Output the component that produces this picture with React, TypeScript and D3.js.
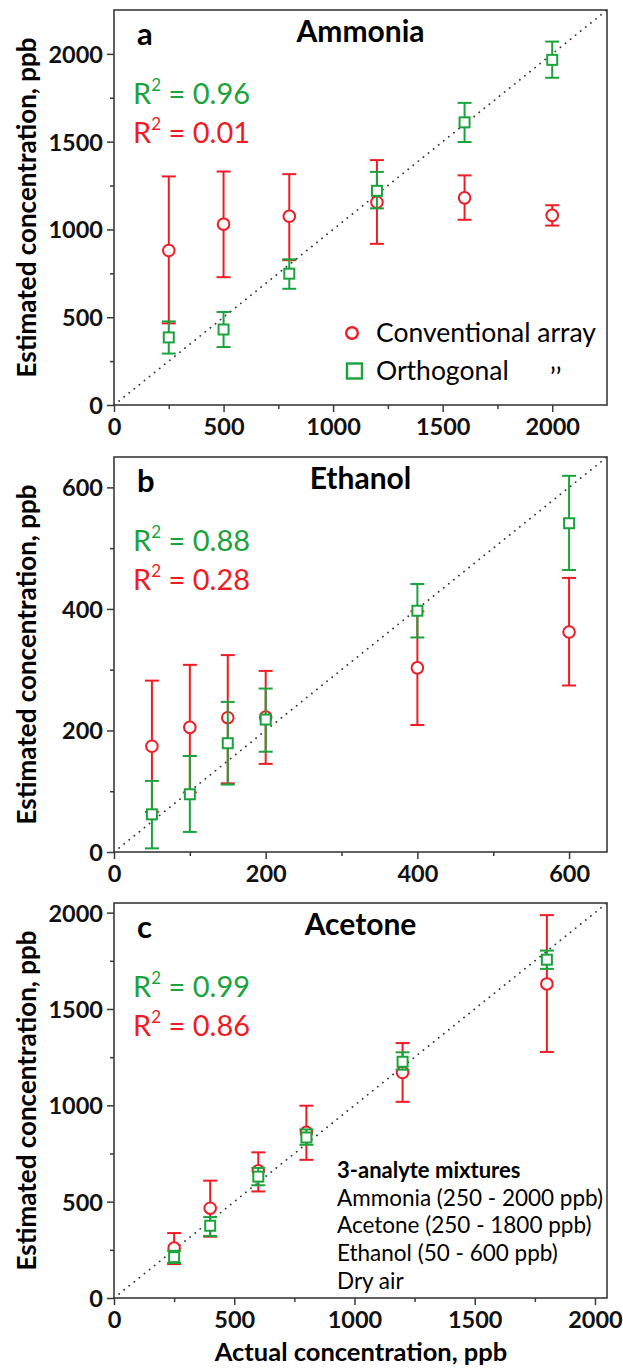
import React, { useEffect, useRef } from 'react';
import * as d3 from 'd3';

// ---- data (ppb) ----
const ammoniaActual = [250, 500, 800, 1200, 1600, 2000];
const ammoniaConv = [880, 1030, 1075, 1155, 1180, 1080];
const ammoniaConvLo = [465, 728, 825, 918, 1055, 1022];
const ammoniaConvHi = [1302, 1330, 1315, 1395, 1308, 1138];
const ammoniaOrth = [385, 430, 748, 1220, 1610, 1966];
const ammoniaOrthLo = [293, 330, 662, 1120, 1498, 1864];
const ammoniaOrthHi = [476, 530, 830, 1328, 1721, 2070];

const ethanolActual = [50, 100, 150, 200, 400, 600];
const ethanolConv = [174, 205, 221, 222, 303, 362];
const ethanolConvLo = [66, 98, 113, 145, 209, 274];
const ethanolConvHi = [282, 308, 324, 298, 396, 451];
const ethanolOrth = [62, 95, 179, 218, 397, 541];
const ethanolOrthLo = [6, 33, 111, 165, 353, 464];
const ethanolOrthHi = [117, 158, 247, 269, 441, 619];

const acetoneActual = [250, 400, 600, 800, 1200, 1800];
const acetoneConv = [259, 466, 660, 860, 1170, 1630];
const acetoneConvLo = [176, 318, 553, 717, 1018, 1277];
const acetoneConvHi = [337, 609, 756, 998, 1323, 1987];
const acetoneOrth = [212, 375, 630, 833, 1226, 1756];
const acetoneOrthLo = [182, 322, 585, 795, 1185, 1708];
const acetoneOrthHi = [245, 420, 675, 875, 1275, 1803];

const ammoniaTicks = [0, 500, 1000, 1500, 2000];
const ethanolTicks = [0, 200, 400, 600];
const acetoneTicks = [0, 500, 1000, 1500, 2000];

const letters = ['a', 'b', 'c'];
const titles = ['Ammonia', 'Ethanol', 'Acetone'];
const r2Orth = ['0.96', '0.88', '0.99'];
const r2Conv = ['0.01', '0.28', '0.86'];
const axisMax = [2250, 650, 2050];
const minorStep = [250, 100, 250];

const legendLabels = ['Conventional array', 'Orthogonal'];
const noteTitle = '3-analyte mixtures';
const noteLines = ['Ammonia (250 - 2000 ppb)', 'Acetone (250 - 1800 ppb)', 'Ethanol (50 - 600 ppb)', 'Dry air'];

const yTitle = 'Estimated concentration, ppb';
const xTitle = 'Actual concentration, ppb';

// ---- layout ----
const W = 623;
const H = 1371;
const FL = 114;
const FR = 607;
const TOPS = [10, 457, 903];
const PH = 395;
const RED = '#ee1c24';
const GREEN = '#1aa33c';
const FONT = 'Lato, "DejaVu Sans", sans-serif';

function drawPanel(svg: any, i: number) {
  const top = TOPS[i];
  const max = axisMax[i];
  const x = d3.scaleLinear().domain([0, max]).range([FL, FR]);
  const y = d3.scaleLinear().domain([0, max]).range([top + PH, top]);
  const ticks = [ammoniaTicks, ethanolTicks, acetoneTicks][i];
  const minor = d3.range(minorStep[i], max, minorStep[i] * 2);
  const fmt = d3.format('d');

  const g = svg.append('g');

  // identity line
  g.append('line')
    .attr('x1', x(0)).attr('y1', y(0))
    .attr('x2', x(max)).attr('y2', y(max))
    .attr('stroke', '#333')
    .attr('stroke-width', 1.8)
    .attr('stroke-linecap', 'round')
    .attr('stroke-dasharray', '0.1 6.4');

  // axes
  const yAxis = g.append('g').attr('transform', `translate(${FL},0)`)
    .call(d3.axisLeft(y).tickValues(ticks).tickFormat(fmt).tickSize(7).tickPadding(4));
  const xAxis = g.append('g').attr('transform', `translate(0,${top + PH})`)
    .call(d3.axisBottom(x).tickValues(ticks).tickFormat(fmt).tickSize(7).tickPadding(6));
  g.append('g').attr('transform', `translate(${FL},0)`)
    .call(d3.axisLeft(y).tickValues(minor).tickSize(4).tickFormat(() => ''));
  g.append('g').attr('transform', `translate(0,${top + PH})`)
    .call(d3.axisBottom(x).tickValues(minor).tickSize(4).tickFormat(() => ''));
  g.selectAll('.domain').remove();
  g.selectAll('.tick line').attr('stroke', '#3a3a3a').attr('stroke-width', 1.5);
  [yAxis, xAxis].forEach((a) =>
    a.selectAll('text')
      .attr('font-family', FONT)
      .attr('font-weight', 'bold')
      .attr('font-size', 23.5)
      .attr('fill', '#111'));
  yAxis.selectAll('text').attr('dy', '0.36em');

  // frame
  g.append('rect')
    .attr('x', FL).attr('y', top)
    .attr('width', FR - FL).attr('height', PH)
    .attr('fill', 'none')
    .attr('stroke', '#3a3a3a')
    .attr('stroke-width', 1.6);

  const actual = [ammoniaActual, ethanolActual, acetoneActual][i];
  const series = [
    {
      mean: [ammoniaConv, ethanolConv, acetoneConv][i],
      lo: [ammoniaConvLo, ethanolConvLo, acetoneConvLo][i],
      hi: [ammoniaConvHi, ethanolConvHi, acetoneConvHi][i],
      color: RED,
      shape: 'circle',
    },
    {
      mean: [ammoniaOrth, ethanolOrth, acetoneOrth][i],
      lo: [ammoniaOrthLo, ethanolOrthLo, acetoneOrthLo][i],
      hi: [ammoniaOrthHi, ethanolOrthHi, acetoneOrthHi][i],
      color: GREEN,
      shape: 'square',
    },
  ];

  series.forEach((s) => {
    const sg = g.append('g').attr('stroke', s.color).attr('stroke-width', 2).attr('fill', 'white');
    actual.forEach((a, k) => {
      const cx = x(a);
      sg.append('line').attr('x1', cx).attr('x2', cx).attr('y1', y(s.lo[k])).attr('y2', y(s.hi[k]));
      [s.lo[k], s.hi[k]].forEach((v) =>
        sg.append('line').attr('x1', cx - 7).attr('x2', cx + 7).attr('y1', y(v)).attr('y2', y(v)));
    });
    actual.forEach((a, k) => {
      const cx = x(a);
      const cy = y(s.mean[k]);
      if (s.shape === 'circle') sg.append('circle').attr('cx', cx).attr('cy', cy).attr('r', 5.8);
      else sg.append('rect').attr('x', cx - 5).attr('y', cy - 5).attr('width', 10).attr('height', 10);
    });
  });

  // labels
  g.append('text').attr('x', 137).attr('y', top + 35)
    .attr('font-family', FONT).attr('font-weight', 'bold').attr('font-size', 31)
    .text(letters[i]);
  g.append('text').attr('x', (FL + FR) / 2).attr('y', top + 32)
    .attr('text-anchor', 'middle')
    .attr('font-family', FONT).attr('font-weight', 'bold').attr('font-size', 30)
    .text(titles[i]);

  [[r2Orth[i], GREEN, 94], [r2Conv[i], RED, 133]].forEach(([val, col, dy]) => {
    const t = g.append('text').attr('x', 133).attr('y', top + (dy as number))
      .attr('font-family', FONT).attr('font-size', 29).attr('fill', col as string);
    t.append('tspan').text('R');
    t.append('tspan').attr('font-size', 17).attr('dy', -13).text('2');
    t.append('tspan').attr('dy', 13).text(` = ${val}`);
  });

  // y title
  g.append('text')
    .attr('transform', `translate(36,${top + PH / 2}) rotate(-90)`)
    .attr('text-anchor', 'middle')
    .attr('font-family', FONT).attr('font-weight', 'bold').attr('font-size', 26)
    .text(yTitle);
}

const App = () => {
  const ref = useRef<SVGSVGElement>(null);

  useEffect(() => {
    const svg = d3.select(ref.current);
    svg.selectAll('*').remove();
    svg.append('rect').attr('width', W).attr('height', H).attr('fill', 'white');

    [0, 1, 2].forEach((i) => drawPanel(svg, i));

    // legend in panel a
    const lg = svg.append('g').attr('font-family', FONT).attr('font-size', 26.5);
    lg.append('circle').attr('cx', 352).attr('cy', 333).attr('r', 5.8)
      .attr('fill', 'white').attr('stroke', RED).attr('stroke-width', 2.4);
    lg.append('rect').attr('x', 347).attr('y', 363.5).attr('width', 15).attr('height', 15)
      .attr('fill', 'white').attr('stroke', GREEN).attr('stroke-width', 2.4);
    legendLabels.forEach((l, k) =>
      lg.append('text').attr('x', 376).attr('y', 342 + k * 38).text(l));
    lg.append('text').attr('x', 550).attr('y', 387).text('\u2019\u2019');

    // note in panel c
    const ng = svg.append('g').attr('font-family', FONT);
    ng.append('text').attr('x', 337).attr('y', 1178)
      .attr('font-weight', 'bold').attr('font-size', 22).text(noteTitle);
    noteLines.forEach((l, k) =>
      ng.append('text').attr('x', 337).attr('y', 1205.5 + k * 27.7)
        .attr('font-size', 22.5).text(l));

    // x title
    svg.append('text').attr('x', 361).attr('y', 1361)
      .attr('text-anchor', 'middle')
      .attr('font-family', FONT).attr('font-weight', 'bold').attr('font-size', 25.5)
      .text(xTitle);
  }, []);

  return (
    <div style={{ position: 'absolute', left: 0, top: 0 }}>
      <svg ref={ref} width={W} height={H}></svg>
    </div>
  );
};

export default App;
